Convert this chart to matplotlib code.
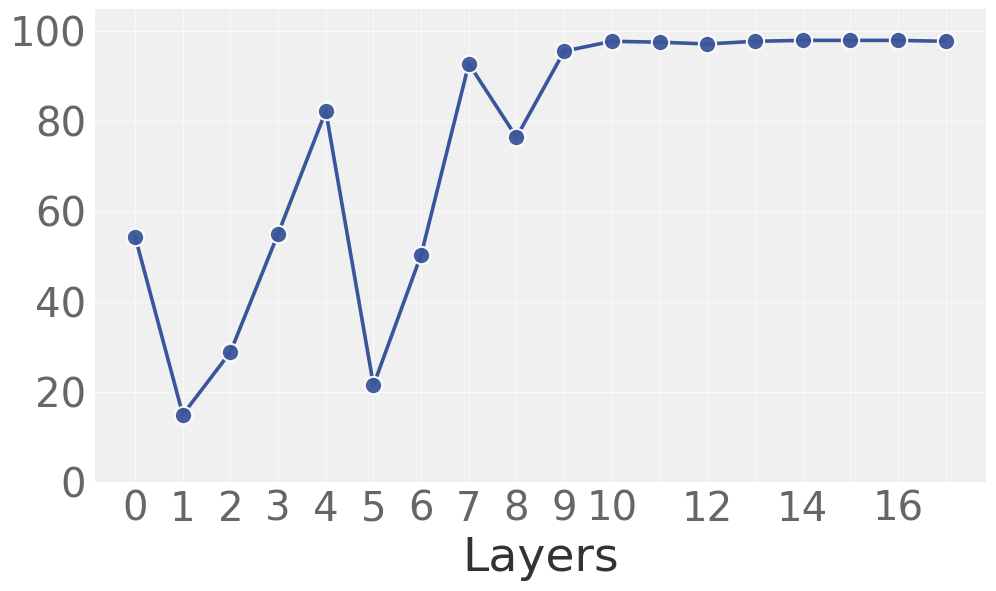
import matplotlib
matplotlib.use("Agg")
from matplotlib import pyplot as plt

# Values per layer
layers = list(range(18))
scores = [54.4, 14.9, 28.8, 55.1, 82.3, 21.4, 50.4, 92.8, 76.5, 95.6,
          97.8, 97.6, 97.2, 97.8, 98.0, 98.0, 98.0, 97.8]
yticks = [0, 20, 40, 60, 80, 100]
xtick_labels = [str(i) if (i <= 10 or i % 2 == 0) else '' for i in layers]

fig, ax = plt.subplots(figsize=(9.96, 5.91), dpi=100)
fig.subplots_adjust(left=0.095, right=0.99, top=0.985, bottom=0.185)

ax.set_facecolor('#f0f0f0')
ax.plot(layers, scores, color='#3a559b', linewidth=2.6, zorder=3)
ax.plot(layers, scores, linestyle='none', marker='o', markersize=12.5,
        markerfacecolor='#3a559b', markeredgecolor='white',
        markeredgewidth=1.5, alpha=0.95, zorder=4)

ax.set_xticks(layers)
ax.set_xticklabels(xtick_labels)
ax.set_yticks(yticks)
ax.set_xlim(-0.85, 17.85)
ax.set_ylim(0, 105)
ax.grid(color='white', linewidth=0.8, alpha=0.6)
ax.set_axisbelow(True)
for s in ax.spines.values():
    s.set_visible(False)
ax.tick_params(length=0, labelsize=29, labelcolor='#666666', pad=6)
ax.set_xlabel('Layers', fontsize=34, color='#333333', labelpad=4)

plt.savefig('out.png', dpi=100)
